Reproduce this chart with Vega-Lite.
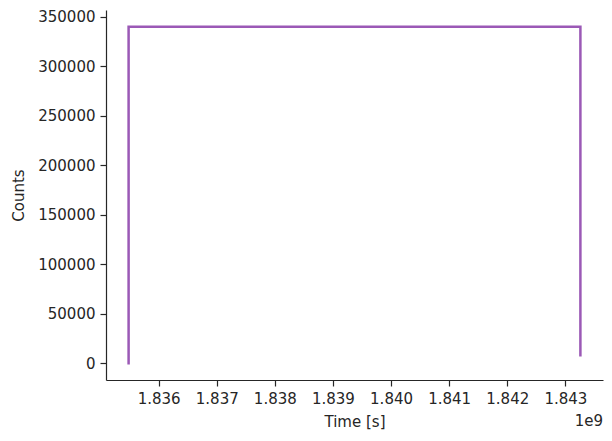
{
  "$schema": "https://vega.github.io/schema/vega-lite/v6.json",
  "width": 497,
  "height": 370,
  "autosize": "none",
  "padding": {"left": 106, "top": 10, "right": 9, "bottom": 61},
  "background": "white",
  "config": {
    "font": "DejaVu Sans",
    "view": {"stroke": null},
    "axis": {
      "domainColor": "#262626",
      "tickColor": "#262626",
      "labelColor": "#262626",
      "titleColor": "#262626",
      "labelFont": "DejaVu Sans",
      "titleFont": "DejaVu Sans",
      "labelFontSize": 15,
      "titleFontSize": 15,
      "titleFontWeight": "normal",
      "tickSize": 6,
      "tickWidth": 1.2,
      "domainWidth": 1.2,
      "labelPadding": 5,
      "grid": false
    }
  },
  "layer": [
    {
      "data": {
        "values": [
          {"i": 0, "time": 1835483000, "counts": 0},
          {"i": 1, "time": 1835483000, "counts": 339900},
          {"i": 2, "time": 1843259000, "counts": 339900},
          {"i": 3, "time": 1843259000, "counts": 8000}
        ]
      },
      "mark": {"type": "line", "color": "#9b59b6", "strokeWidth": 2.5, "strokeCap": "square"},
      "encoding": {
        "x": {
          "field": "time",
          "type": "quantitative",
          "scale": {"domain": [1835094000, 1843648000], "nice": false, "zero": false},
          "axis": {
            "title": "Time [s]",
            "values": [1836000000, 1837000000, 1838000000, 1839000000, 1840000000, 1841000000, 1842000000, 1843000000],
            "labelExpr": "format(datum.value / 1e9, '.3f')",
            "titlePadding": 8
          }
        },
        "y": {
          "field": "counts",
          "type": "quantitative",
          "scale": {"domain": [-16994, 356878], "nice": false, "zero": false},
          "axis": {
            "title": "Counts",
            "values": [0, 50000, 100000, 150000, 200000, 250000, 300000, 350000],
            "format": "d",
            "titlePadding": 11
          }
        },
        "order": {"field": "i"}
      }
    },
    {
      "data": {"values": [{"label": "1e9"}]},
      "mark": {"type": "text", "align": "right", "baseline": "middle", "dy": 41, "fontSize": 15, "color": "#262626", "clip": false},
      "encoding": {
        "x": {"datum": 1843648000, "type": "quantitative"},
        "y": {"datum": -16994, "type": "quantitative"},
        "text": {"field": "label"}
      }
    }
  ]
}
